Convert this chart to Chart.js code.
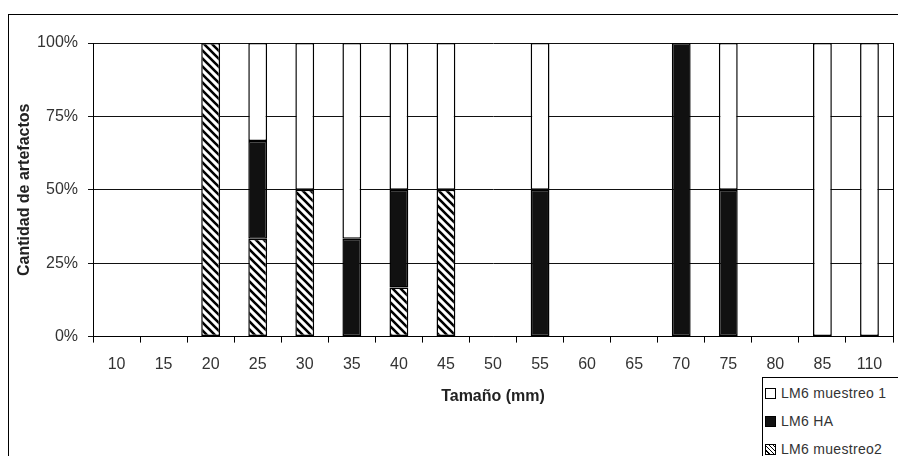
<!DOCTYPE html>
<html>
<head>
<meta charset="utf-8">
<script src="https://cdn.jsdelivr.net/npm/chart.js@4.4.1/dist/chart.umd.min.js"></script>
<style>
  body { margin: 0; background: #fff; }
  #wrap { position: relative; width: 898px; height: 456px; overflow: hidden; }
  #frame { position: absolute; left: 8px; top: 14px; width: 900px; height: 460px; border: 1px solid #000; box-sizing: border-box; pointer-events: none; }
  canvas { position: absolute; left: 0; top: 0; }
  #legend { position: absolute; left: 762px; top: 377px; width: 150px; height: 90px; border: 1px solid #000; background: #fff;
            font-family: "Liberation Sans", Arial, sans-serif; font-size: 14px; color: #333; letter-spacing: 0.3px; }
  #legend .item { position: absolute; left: 2px; height: 16px; line-height: 16px; white-space: nowrap; }
  #legend .sw { display: inline-block; width: 9px; height: 9px; border: 1.5px solid #000; vertical-align: -1px; margin-right: 5px; }
</style>
</head>
<body>
<div id="wrap">
  <canvas id="chart" width="898" height="456"></canvas>
  <div id="frame"></div>
  <div id="legend"></div>
</div>
<script>
const categories = ['10', '15', '20', '25', '30', '35', '40', '45', '50', '55', '60', '65', '70', '75', '80', '85', '110'];
const muestreo1 = [null, null, null, 33.4, 50, 66.7, 50, 50, null, 50, null, null, null, 50, null, 100, 100];
const lm6HA     = [null, null, null, 33.3, null, 33.3, 33.3, null, null, 50, null, null, 100, 50, null, null, null];
const muestreo2 = [null, null, 100, 33.3, 50, null, 16.7, 50, null, null, null, null, null, null, null, null, null];
const yTicks = [0, 25, 50, 75, 100];

// diagonal hatch for "LM6 muestreo2"
function makeHatch() {
    const c = document.createElement('canvas');
    c.width = 8; c.height = 8;
    const g = c.getContext('2d');
    g.fillStyle = '#fff';
    g.fillRect(0, 0, 8, 8);
    g.strokeStyle = '#000';
    g.lineWidth = 2.6;
    g.beginPath();
    g.moveTo(-2, -2); g.lineTo(10, 10);
    g.moveTo(-2, 6); g.lineTo(2, 10);
    g.moveTo(6, -2); g.lineTo(10, 2);
    g.stroke();
    return g.createPattern(c, 'repeat');
}

const ctx = document.getElementById('chart').getContext('2d');
const hatch = makeHatch();

// right edge of the plot area
const plotFrame = {
    id: 'plotFrame',
    afterDatasetsDraw(chart) {
        const { ctx, chartArea } = chart;
        ctx.save();
        ctx.strokeStyle = '#000';
        ctx.lineWidth = 1;
        ctx.beginPath();
        ctx.moveTo(Math.round(chartArea.right) + 0.5, chartArea.top);
        ctx.lineTo(Math.round(chartArea.right) + 0.5, chartArea.bottom);
        ctx.stroke();
        ctx.restore();
    }
};

const font = { family: '"Liberation Sans", Arial, sans-serif', size: 16 };

const chart = new Chart(ctx, {
    type: 'bar',
    data: {
        labels: categories,
        datasets: [
            { label: 'LM6 muestreo2', data: muestreo2, backgroundColor: hatch, borderColor: '#000', borderWidth: 1.5 },
            { label: 'LM6 HA', data: lm6HA, backgroundColor: '#111', borderColor: '#000', borderWidth: 1.5 },
            { label: 'LM6 muestreo 1', data: muestreo1, backgroundColor: '#fff', borderColor: '#000', borderWidth: 1.5 }
        ]
    },
    options: {
        responsive: false,
        animation: false,
        layout: { padding: { left: 11, right: 5, top: 43, bottom: 46 } },
        datasets: { bar: { categoryPercentage: 1, barPercentage: 0.4, borderSkipped: false } },
        plugins: {
            legend: { display: false },
            tooltip: { enabled: false }
        },
        scales: {
            x: {
                stacked: true,
                grid: { drawOnChartArea: false, color: '#000', tickLength: 6, offset: true },
                border: { color: '#000', width: 1 },
                ticks: { color: '#333', font, padding: 12, maxRotation: 0, autoSkip: false },
                title: { display: true, text: 'Tamaño (mm)', color: '#222', font: { ...font, weight: 'bold' }, padding: { top: 1, bottom: 4 } }
            },
            y: {
                stacked: true,
                min: 0, max: 100,
                afterBuildTicks: (axis) => { axis.ticks = yTicks.map(v => ({ value: v })); },
                afterFit: (axis) => { axis.width = 82; },
                grid: { color: '#111', lineWidth: 1, tickLength: 5 },
                border: { color: '#000', width: 1 },
                ticks: { color: '#333', font, padding: 10, callback: v => v + '%' },
                title: { display: true, text: 'Cantidad de artefactos', color: '#222', font: { ...font, weight: 'bold' }, padding: { top: 4, bottom: 0 } }
            }
        }
    },
    plugins: [plotFrame]
});

// legend built from the datasets, listed in the reference order
const legend = document.getElementById('legend');
chart.data.datasets.slice().reverse().forEach((ds, i) => {
    const item = document.createElement('div');
    item.className = 'item';
    item.style.top = (7 + i * 28) + 'px';
    const sw = document.createElement('span');
    sw.className = 'sw';
    if (ds.backgroundColor === hatch) {
        sw.style.background = 'repeating-linear-gradient(45deg, #fff 0 2px, #000 2px 3px)';
    } else {
        sw.style.background = ds.backgroundColor;
    }
    item.appendChild(sw);
    item.appendChild(document.createTextNode(ds.label));
    legend.appendChild(item);
});
</script>
</body>
</html>
